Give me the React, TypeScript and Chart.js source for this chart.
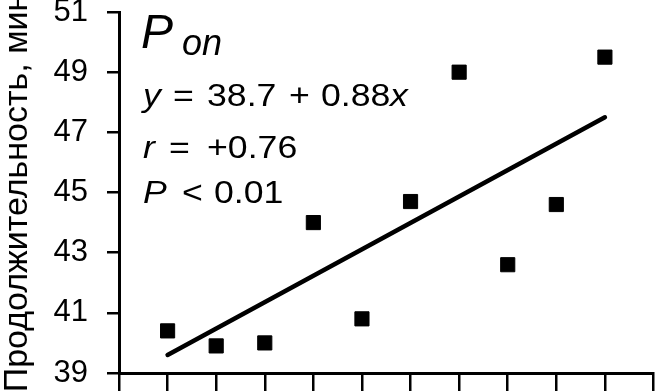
import React, { useEffect, useRef } from "react";
import { Chart, registerables } from "chart.js";

Chart.register(...registerables);

// ---- data ----
const xValues = [1, 2, 3, 4, 5, 6, 7, 8, 9, 10];
const durations = [40.4, 39.9, 40.0, 44.0, 40.8, 44.7, 49.0, 42.6, 44.6, 49.5];
const fitX = [1, 10];
const fitY = [39.6, 47.5];
const yMin = 39;
const yMax = 51;
const yStep = 2;
const xMin = 0;
const xMax = 11;
const yTitle = "Продолжительность, мин";
const panelLabel = ["P", "on"];
const statLines = [
  [["y", true], ["=", false], ["38.7", false], ["+", false], ["0.88", false], ["x", true]],
  [["r", true], ["=", false], ["+0.76", false]],
  [["P", true], ["<", false], ["0.01", false]],
];
const statX = [
  [143, 173, 207, 289, 321, 390],
  [143, 169, 207],
  [143, 182, 214],
];
const statBaselines = [106, 158, 203];

const FONT = "Arial, 'Liberation Sans', Helvetica, sans-serif";

const fixAreaPlugin = {
  id: "fixArea",
  afterLayout(chart: any) {
    const right = chart.width - 1.5;
    const ca = chart.chartArea;
    ca.right = right;
    ca.width = right - ca.left;
    const xs = chart.scales.x;
    xs.right = right;
    xs.width = right - xs.left;
    xs.configure();
  },
};

const annotationPlugin = {
  id: "annotations",
  afterDraw(chart: any) {
    const ctx = chart.ctx as CanvasRenderingContext2D;
    ctx.save();
    ctx.fillStyle = "#000";
    ctx.textBaseline = "alphabetic";
    ctx.textAlign = "left";
    // panel label
    ctx.font = `italic 48px ${FONT}`;
    ctx.fillText(panelLabel[0], 141, 48);
    ctx.font = `italic 36px ${FONT}`;
    ctx.fillText(panelLabel[1], 182, 55);
    // statistics lines
    const sx = 1.15;
    statLines.forEach((line, li) => {
      line.forEach((tok, ti) => {
        const [txt, ital] = tok as [string, boolean];
        ctx.save();
        ctx.font = `${ital ? "italic " : ""}31px ${FONT}`;
        ctx.translate(statX[li][ti], statBaselines[li]);
        ctx.scale(sx, 1);
        ctx.fillText(txt, 0, 0);
        ctx.restore();
      });
    });
    ctx.restore();
  },
};

export default function App() {
  const ref = useRef<HTMLCanvasElement | null>(null);

  useEffect(() => {
    if (!ref.current) return;
    const chart = new Chart(ref.current, {
      type: "scatter",
      data: {
        datasets: [
          {
            type: "scatter",
            data: xValues.map((x, i) => ({ x, y: durations[i] })),
            pointStyle: "rect",
            pointRadius: 10,
            pointHoverRadius: 10,
            backgroundColor: "#000",
            borderColor: "#000",
            borderWidth: 1,
            order: 1,
          } as any,
          {
            type: "line",
            data: fitX.map((x, i) => ({ x, y: fitY[i] })),
            borderColor: "#000",
            borderWidth: 4.5,
            borderCapStyle: "round",
            pointRadius: 0,
            fill: false,
            order: 2,
          } as any,
        ],
      },
      options: {
        animation: false,
        responsive: false,
        devicePixelRatio: 1,
        layout: { padding: { top: 12, right: 1.5, left: 0, bottom: 0 } },
        plugins: {
          legend: { display: false },
          tooltip: { enabled: false },
          title: { display: false },
        },
        scales: {
          x: {
            type: "linear",
            min: xMin,
            max: xMax,
            ticks: { stepSize: 1, display: false },
            grid: {
              display: true,
              drawOnChartArea: false,
              drawTicks: true,
              tickLength: 18,
              color: "#000",
              lineWidth: 2.5,
            },
            border: { display: true, color: "#000", width: 3 },
            afterFit: (scale: any) => {
              scale.height = 18;
              scale.paddingLeft = 0;
              scale.paddingRight = 0;
            },
          },
          y: {
            type: "linear",
            min: yMin,
            max: yMax,
            ticks: {
              stepSize: yStep,
              color: "#000",
              padding: 19,
              font: { family: FONT, size: 31, lineHeight: 0.7 },
            },
            grid: {
              display: true,
              drawOnChartArea: false,
              drawTicks: true,
              tickLength: 12,
              color: "#000",
              lineWidth: 2.5,
            },
            border: { display: true, color: "#000", width: 3 },
            title: {
              display: true,
              text: yTitle,
              color: "#000",
              font: { family: FONT, size: 34, lineHeight: 1 },
              padding: { top: 1, bottom: 0 },
            },
            afterFit: (scale: any) => {
              scale.width = 119;
              scale.paddingTop = 0;
              scale.paddingBottom = 0;
            },
          },
        },
      } as any,
      plugins: [fixAreaPlugin, annotationPlugin],
    });
    return () => chart.destroy();
  }, []);

  return (
    <div style={{ position: "absolute", left: 0, top: 0, width: 655, height: 391, background: "#fff" }}>
      <canvas ref={ref} width={655} height={391} style={{ display: "block" }} />
    </div>
  );
}
